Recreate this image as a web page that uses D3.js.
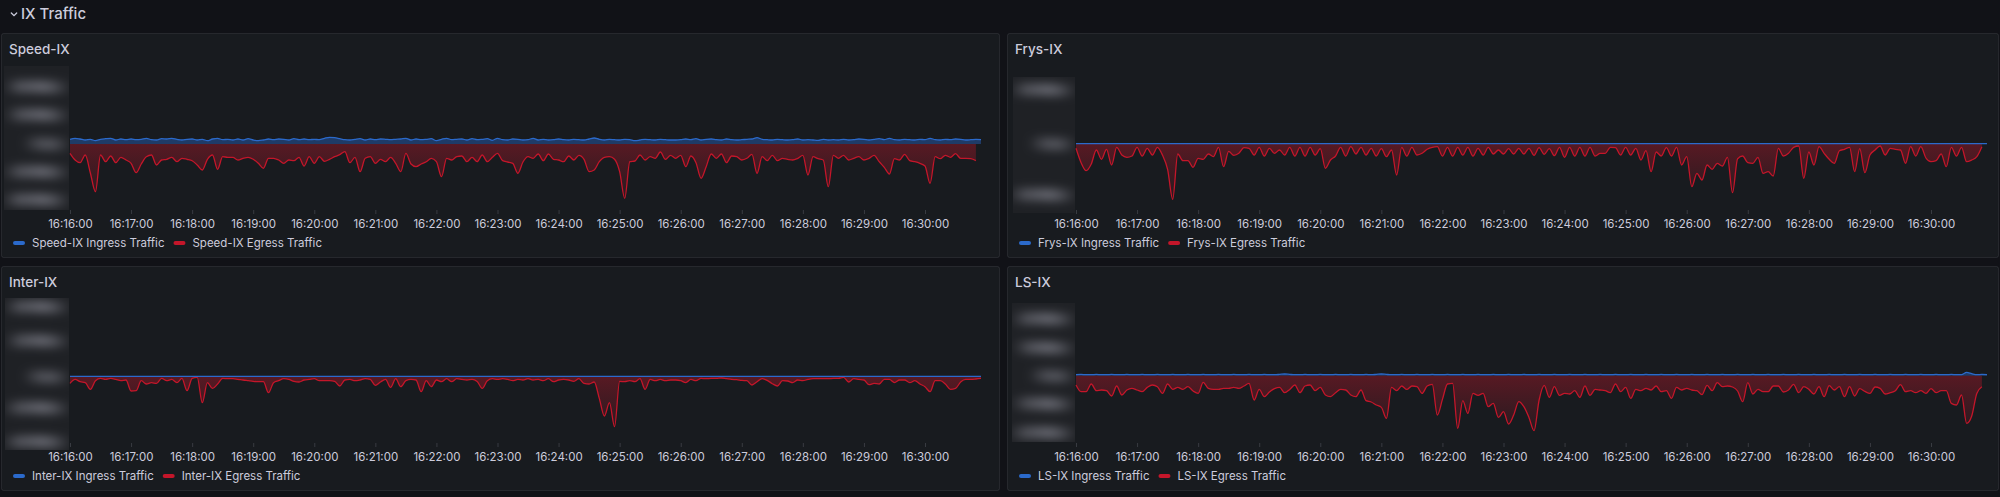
<!DOCTYPE html>
<html><head><meta charset="utf-8">
<script src="https://cdn.jsdelivr.net/npm/d3@7/dist/d3.min.js"></script>
<style>
html,body{margin:0;padding:0;background:#111217;overflow:hidden;}
svg{display:block;font-family:Inter,"Noto Sans",sans-serif;}
</style></head><body>
<svg id="chart" width="2000" height="497"></svg>
<script>
// ---------------- DATA ----------------
const rowTitle = "IX Traffic";
const panelNames = ["Speed-IX", "Frys-IX", "Inter-IX", "LS-IX"];
const startTime = "16:16:00";
const endTime = "16:30:56";
const stepSeconds = 5;
const xTickLabels = ["16:16:00","16:17:00","16:18:00","16:19:00","16:20:00","16:21:00","16:22:00","16:23:00",
  "16:24:00","16:25:00","16:26:00","16:27:00","16:28:00","16:29:00","16:30:00"];

// traffic values (Mb/s-like units); egress is drawn below zero (negative-Y)
const speedIngress = [
4.7,5.7,5,4,4.7,3.3,4.7,5.3,5.7,4, 5,4.3,5,4.3,4.7,5.7,4.3,4,5.3,5, 5.7,4.7,4,4.7,5,4,4.7,3.3,5,5.7,
4.3,4.7,4,5,4,5.3,4,3.3,4,5, 4.3,5,4.7,4,5.3,4.3,5,4.3,4.7,4.3, 5.7,6.7,6.3,5.3,4.3,4,4.7,5.3,4,5,
4.3,5,4.7,4.3,4.7,5,5.7,4,5,4.3, 4.7,5.3,3.3,4.7,5.7,4.3,4.7,5,4,5.3, 4.3,4.7,5.3,3.7,5.7,4.3,4,5,4.7,4,
4.3,5.7,4,4.7,4,4.3,5,4.3,4,4.7, 4.3,4,5,6,4.7,4,4.7,4.3,4,4.7, 4.3,3.3,4,4.7,4.3,4,4.7,4.3,4,4,
4.3,5,4.3,5.3,4,4.7,5,4.3,4,5, 4.3,4,4.3,4.7,5,6.3,4.7,4.3,4,4.7, 4.3,4,4.3,5,4,4.3,4,3.7,4.7,4,
4.3,4,4.7,4,4.3,5,4.7,4,4.7,5.3, 4.3,5.7,4.3,4,4.7,4.3,4,4.7,4.3,5.7, 4.3,4,4.7,4.3,5,4.7,4,4.3,4.7,4.3];
const speedEgress = [
9.3,16,18.7,11,29,47.7,11,17.7,12,18.7, 13.3,16,19.3,28.7,20,12.7,11,21,16,15.3,
13.3,17.7,14.3,15.3,16.7,21,26,15.3,11,25.3, 12.7,13.3,13.3,16,14.3,13.3,15.3,19.3,24.3,14.3,
14.3,16,19.3,16,16.7,13.3,22,12.7,19.3,12.7, 17.3,15.3,12.7,10.7,7.7,18.7,13.3,27.7,14.3,12.7,
19.3,15.3,17.7,13.3,19.3,27.7,9.3,20,22.7,20, 17.7,14.3,17.7,32.7,14.3,16,12.7,12,17.7,13.3,
17.7,11,17.7,13.3,9.3,16.7,18,19.3,29.3,18, 12.7,14.3,10,16.7,10,15.3,16,17.7,12,16,
11.3,15.3,27.7,26,17.7,13.3,12.7,15.3,27.7,54.3, 17.7,17,11,16,12.7,14.3,8,15.3,11.3,14.3,
11.3,22.7,12,18.7,34.3,22.7,10,14.3,10,18.7, 12,12.7,16,14.3,10.3,29.3,12.7,16.7,11.3,16.7,
14.3,15.3,16,14.3,11.3,31,12.7,14.7,16,42.7, 11.3,14.3,11.3,16,14.3,12.7,16,14.3,11.3,17.7,
23.3,30,14.7,16,10.3,16.7,17.7,19.3,22,39.3, 12.7,14.7,11.3,13.3,9.7,14.3,14.3,14.7,16.7];

const frysIngress = [
0.3,0.3,0.3,0.3,0.3,0.3,0.3,0.3,0.3,0.3, 0.3,0.3,0.3,0.3,0.3,0.3,0.3,0.3,0.3,0.3, 0.3,0.3,0.3,0.3,0.3,0.3,0.3,0.3,0.3,0.3,
0.3,0.3,0.3,0.3,0.3,0.3,0.3,0.3,0.3,0.3, 0.3,0.3,0.3,0.3,0.3,0.3,0.3,0.3,0.3,0.3, 0.3,0.3,0.3,0.3,0.3,0.3,0.3,0.3,0.3,0.3,
0.3,0.3,0.3,0.3,0.3,0.3,0.3,0.3,0.3,0.3, 0.3,0.3,0.3,0.3,0.3,0.3,0.3,0.3,0.3,0.3, 0.3,0.3,0.3,0.3,0.3,0.3,0.3,0.3,0.3,0.3,
0.3,0.3,0.3,0.3,0.3,0.3,0.3,0.3,0.3,0.3, 0.3,0.3,0.3,0.3,0.3,0.3,0.3,0.3,0.3,0.3, 0.3,0.3,0.3,0.3,0.3,0.3,0.3,0.3,0.3,0.3,
0.3,0.3,0.3,0.3,0.3,0.3,0.3,0.3,0.3,0.3, 0.3,0.3,0.3,0.3,0.3,0.3,0.3,0.3,0.3,0.3, 0.3,0.3,0.3,0.3,0.3,0.3,0.3,0.3,0.3,0.3,
0.3,0.3,0.3,0.3,0.3,0.3,0.3,0.3,0.3,0.3, 0.3,0.3,0.3,0.3,0.3,0.3,0.3,0.3,0.3,0.3, 0.3,0.3,0.3,0.3,0.3,0.3,0.3,0.3,0.3,0.3];
const frysEgress = [
4.3,18.7,26.7,20,6,15.3,5.3,21,3.3,11, 13.3,12,3.3,12,4.3,11,3.3,11.3,25.3,55.3,
10,16.7,16.7,23.3,14.3,15.3,10,12.7,3.3,22.7, 7.3,11.3,9.3,3.7,4.3,11,3.3,12,4.3,9.3,
6,11,3.3,12,3.3,12,3.3,11,4.7,24.3, 16,12,3.3,12,2.7,10,3.3,11,4.3,12,
4.7,12.7,6,31,3.3,12,3.3,11,9.3,5.3, 3.3,2.7,12,3.3,12,3.3,11,3.3,12,4.3,
11,3.3,10,6,10,4.7,10,4.3,10,4.3, 11.3,3.7,10.3,4.7,11.7,3.3,13.3,3.3,12,3.3,
12,3.3,12,9.3,9.3,3.3,3.7,11,3.3,11, 4.3,16,6.7,27.7,8,12,3.7,12,3.3,21,
12.7,42.7,29.3,36,21,25.3,19.3,22,13.3,48.7, 14.7,12,18.7,19.3,13.3,29.3,27.7,32,4.3,12,
9.3,3.3,2,34.3,8,21,2.7,9.3,15.3,19.3, 6.7,5.3,3.3,27.7,4.7,28.7,11,6,2,11,
4.3,5.3,6,19.3,2.7,12,2.7,14,17.7,16.7, 10,22.7,3.3,12,3.3,17.7,16,12.7,2.7];

const interIngress = frysIngress.map(v => v); // same near-zero ingress readings
const interEgress = [
6.7,2.7,5,6,12.7,4,1.7,2.7,1.7,2.7, 4,3.3,14.3,14,4,7.3,6,6.7,1.7,4,
2.7,6,1.7,14,1.7,0.7,26,6,11.7,7.3, 1.7,2,2,2.7,3.3,4,4.7,5,5,16,
6,4,2,2.7,4.7,5.3,3.3,2.7,2,4, 4,4,4.7,9.3,3.3,2.7,4,3.3,2,2.7,
8.7,5.3,2.7,10.7,2,10,4,2.7,3.3,15, 4,10,3.3,5,2,5,2,2.7,3.3,2.7,
4.7,11.7,4,2,2.7,2,2.7,4,2.7,3.3, 2,3.3,2.7,4,2,5,3.3,2.7,3.3,4.7,
2,6.7,7.3,5.3,21.7,39.3,26,50,4.7,5, 4,5,2,12.7,2.7,4,2.7,4,3.3,3.3,
4,6,2.7,4,1.7,2,1.7,1.7,1.3,2, 2.7,3,3.7,4,8.3,5,2,3.7,7,9.3,
4,4.3,6,3.3,4,2.7,2,2,2,2, 1.7,1.7,0.7,5.3,2,2.7,3.3,8,6.7,7.3,
2.7,2.7,6,3.3,3.3,6,4,7.3,10,15, 4,4,7.3,12.7,11.7,5.3,2.7,2.7,2.3,1.7];

const lsIngress = [
1,1.3,1,1,1.3,1,1,1.3,1,1, 1.3,1,1,1.3,1,1,1.3,1,1,1.3, 1,1,1.3,1,1,1.3,1,1,1.3,1,
1,1.3,1,1,1.3,1,1,1.3,1,1, 1.3,1.7,1.3,1,1,1.3,1,1,1.3,1, 1,1.3,1,1,1.3,1,1,1.3,1,1.3,
1.7,1.3,1,1,1.3,1,1,1.3,1,1, 1.3,1,1,1.3,1,1,1.3,1,1,1.3, 1,1,1.3,1,1,1.3,1,1,1.3,1,
1,1.3,1,1,1.3,1,1,1.3,1,1, 1.3,1,1,1.3,1,1,1.3,1,1,1.3, 1,1,1.3,1,1,1.3,1,1,1.3,1,
1,1.3,1,1,1.3,1,1,1.3,1,1, 1.3,1,1,1.3,1,1,1.3,1,1,1.3, 1,1,1.3,1,1,1.3,1,1,1.3,1,
1,1.3,1,1,1.3,1,1,1.3,1,1, 1.3,1,1,1.3,1,1,1.3,1,1,1.3, 1,1,1.3,1,1,3.3,2,1,1.3,1];
const lsEgress = [
9.3,16,16,8.3,15,14.3,15,20.3,10.3,19.3, 14.3,12.7,14.3,16,11.7,9.3,11,17.7,8.3,13.7,
11.7,13.7,11,15.3,17.7,6.7,12.7,13.7,13.7,12.7, 12.7,11.7,12.7,10.3,7.7,24.3,13.7,21,16.3,13,
11.7,17,13.7,9.3,17,10.3,9.3,15,11.7,19.3, 21,17,13.7,14.3,19.3,21,14.3,25,26.3,29.3,
31.7,42.7,11.7,15,10.3,13.7,10.3,11,17.7,10.3, 8.7,39.3,23.7,8.3,7.7,52.7,25,37.7,17.7,19.7,
17.7,31,27.7,41.7,36,48.3,39.3,26,31,41.7, 55,24.3,9.7,21.7,11,19.7,17.7,18.3,15,21.7,
10.3,19.7,13.7,14.3,15,17,8.3,16,11.7,22.7, 13.7,15,12.7,14.3,10.3,16,15,22.7,11.7,14.3,
12.7,14.3,15,19,9.7,15,7,11,10.3,11.3, 15.3,26,7,18.3,13.7,16,16,10.3,10.3,16.3,
14.3,8.7,17,11,13.7,18.3,11,21,10,14.3, 11,21,11,20.3,13,15.7,17.7,11.3,12.7,18.3,
17,15,9,16,15,17,15,17.7,13,17, 15,15,27.7,29.3,19.3,47.7,40.3,17.7,11];

// y-axis domains and (obscured) tick labels per panel
const speedYDomain = [-66, 79];
const frysYDomain = [-66, 79];
const interYDomain = [-66.3, 78.7];
const lsYDomain = [-67.3, 77.7];
const speedYTicks = [57, 29, 0, -28, -56];
const speedYTickLabels = ["60 Mb/s", "30 Mb/s", "0 b/s", "-30 Mb/s", "-60 Mb/s"];
const frysYTicks = [54, 0, -51];
const frysYTickLabels = ["50 Mb/s", "0 b/s", "-50 Mb/s"];
const interYTicks = [70, 36, 0, -31, -65];
const interYTickLabels = ["40 Mb/s", "20 Mb/s", "0 b/s", "-20 Mb/s", "-40 Mb/s"];
const lsYTicks = [57, 28, 0, -28, -57];
const lsYTickLabels = ["20 Mb/s", "10 Mb/s", "0 b/s", "-10 Mb/s", "-20 Mb/s"];

// ---------------- LAYOUT / STYLE ----------------
const C = {
  text: "#ccccdc", panelBg: "#181b1f", panelBorder: "rgba(204,204,220,0.10)",
  blue: "#2b6acb", red: "#c4162a", blurBg: "#1f2125"
};
const layout = [
  {x: 1, y: 33, w: 999, h: 225, blur: [3, 33, 65, 144]},
  {x: 1007, y: 33, w: 992, h: 225, blur: [6, 44, 62, 136]},
  {x: 1, y: 266, w: 999, h: 225, blur: [4, 32, 64, 152]},
  {x: 1007, y: 266, w: 992, h: 225, blur: [5, 37, 63, 139]}
];
const plotLeft = 69, plotTop = 32, plotW = 912, plotH = 145;

const panels = [
  {name: panelNames[0], ingress: speedIngress, egress: speedEgress, yDomain: speedYDomain, yTicks: speedYTicks, yLabels: speedYTickLabels},
  {name: panelNames[1], ingress: frysIngress, egress: frysEgress, yDomain: frysYDomain, yTicks: frysYTicks, yLabels: frysYTickLabels},
  {name: panelNames[2], ingress: interIngress, egress: interEgress, yDomain: interYDomain, yTicks: interYTicks, yLabels: interYTickLabels},
  {name: panelNames[3], ingress: lsIngress, egress: lsEgress, yDomain: lsYDomain, yTicks: lsYTicks, yLabels: lsYTickLabels}
];

const parseT = d3.timeParse("%H:%M:%S");
const t0 = parseT(startTime), tEnd = parseT(endTime);
const timeAt = i => new Date(t0.getTime() + i * stepSeconds * 1000);
const tickDates = xTickLabels.map(parseT);

const svg = d3.select("#chart");
const defs = svg.append("defs");
const flt = defs.append("filter").attr("id", "lblBlur").attr("filterUnits", "userSpaceOnUse")
  .attr("x", -40).attr("y", 0).attr("width", 160).attr("height", 230);
flt.append("feGaussianBlur").attr("stdDeviation", "8 5.5");

// Row header
svg.append("path").attr("d", "M11.3,13 L14,15.7 L16.7,13")
  .attr("fill", "none").attr("stroke", C.text).attr("stroke-width", 1.3).attr("stroke-linecap", "round");
svg.append("text").attr("x", 21).attr("y", 19.4).attr("fill", C.text)
  .attr("font-size", 15).attr("font-weight", 500).text(rowTitle);

panels.forEach((p, k) => {
  const L = layout[k];
  const g = svg.append("g").attr("transform", `translate(${L.x},${L.y})`);
  g.append("rect").attr("x", 0.5).attr("y", 0.5).attr("width", L.w - 1).attr("height", L.h - 1)
    .attr("rx", 2).attr("fill", C.panelBg).attr("stroke", C.panelBorder);
  g.append("text").attr("x", 8).attr("y", 20.6).attr("fill", C.text)
    .attr("font-size", 13.5).attr("font-weight", 500).text(p.name);

  const x = d3.scaleTime().domain([t0, tEnd]).range([0, plotW]);
  const y = d3.scaleLinear().domain(p.yDomain).range([plotH, 0]);
  const plot = g.append("g").attr("transform", `translate(${plotLeft},${plotTop})`);

  // obscured y-axis labels (blurred)
  const b = L.blur;
  const clipId = "clip" + k;
  defs.append("clipPath").attr("id", clipId).append("rect")
    .attr("x", b[0]).attr("y", b[1]).attr("width", b[2]).attr("height", b[3]);
  const bg = g.append("g").attr("clip-path", `url(#${clipId})`);
  bg.append("rect").attr("x", b[0]).attr("y", b[1]).attr("width", b[2]).attr("height", b[3]).attr("fill", C.blurBg);
  bg.append("g").attr("filter", "url(#lblBlur)")
    .selectAll("text").data(p.yTicks).join("text")
    .attr("x", plotLeft - 8).attr("y", d => plotTop + y(d)).attr("dy", "0.35em")
    .attr("text-anchor", "end").attr("font-size", 12).attr("font-weight", 700)
    .attr("fill", C.text).attr("fill-opacity", 1)
    .text((d, i) => p.yLabels[i]);

  // gradient for egress fill
  const gid = "redGrad" + k;
  const grad = defs.append("linearGradient").attr("id", gid).attr("gradientUnits", "userSpaceOnUse")
    .attr("x1", 0).attr("x2", 0).attr("y1", y(0)).attr("y2", plotH);
  grad.append("stop").attr("offset", 0).attr("stop-color", C.red).attr("stop-opacity", 0.37);
  grad.append("stop").attr("offset", 1).attr("stop-color", C.red).attr("stop-opacity", 0.03);

  const curve = d3.curveMonotoneX;
  const egArea = d3.area().curve(curve).x((d, i) => x(timeAt(i))).y0(y(0)).y1(d => y(-d));
  const egLine = d3.line().curve(curve).x((d, i) => x(timeAt(i))).y(d => y(-d));
  const inArea = d3.area().curve(curve).x((d, i) => x(timeAt(i))).y0(y(0)).y1(d => y(d));
  const inLine = d3.line().curve(curve).x((d, i) => x(timeAt(i))).y(d => y(d));

  plot.append("path").datum(p.ingress).attr("d", inArea).attr("fill", C.blue).attr("fill-opacity", 0.42);
  plot.append("path").datum(p.egress).attr("d", egArea).attr("fill", `url(#${gid})`);
  plot.append("path").datum(p.egress).attr("d", egLine).attr("fill", "none")
    .attr("stroke", C.red).attr("stroke-width", 1.3);
  plot.append("path").datum(p.ingress).attr("d", inLine).attr("fill", "none")
    .attr("stroke", C.blue).attr("stroke-width", 1.3);

  // x axis
  const ax = plot.append("g").attr("transform", `translate(0,${plotH})`)
    .call(d3.axisBottom(x).tickValues(tickDates).tickFormat(d3.timeFormat("%H:%M:%S")).tickSize(4).tickPadding(6));
  ax.select(".domain").remove();
  ax.selectAll(".tick line").attr("stroke", C.text).attr("stroke-opacity", 0.18);
  ax.selectAll(".tick text").attr("fill", C.text).attr("font-size", 11.5).attr("font-family", "Inter,'Noto Sans',sans-serif");

  // legend
  const lg = g.append("g").attr("transform", `translate(12,${210})`);
  const items = [{label: p.name + " Ingress Traffic", color: C.blue}, {label: p.name + " Egress Traffic", color: C.red}];
  let cx = 0;
  items.forEach(it => {
    lg.append("rect").attr("x", cx).attr("y", -2).attr("width", 12).attr("height", 4).attr("rx", 2).attr("fill", it.color);
    const t = lg.append("text").attr("x", cx + 19).attr("y", 4).attr("fill", C.text)
      .attr("font-size", 11.5).text(it.label);
    cx = cx + 19 + t.node().getComputedTextLength() + 9;
  });
});
</script>
</body></html>
